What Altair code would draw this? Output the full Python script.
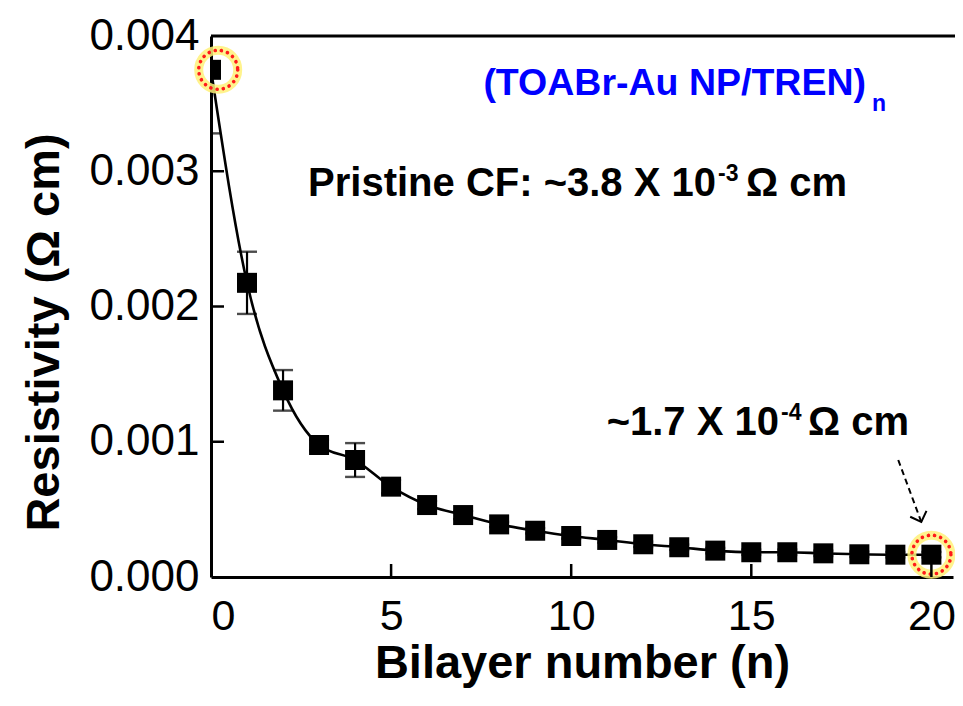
import altair as alt
import pandas as pd
import math

# ---- data ----
bilayer = list(range(21))
resistivity = [0.00375, 0.002175, 0.00138, 0.000976, 0.000865, 0.000668, 0.000532,
               0.000458, 0.000389, 0.000342, 0.000303, 0.000274, 0.000242, 0.000220,
               0.000195, 0.000183, 0.000183, 0.000175, 0.000168, 0.000165, 0.000165]
error = [0.00047, 0.00023, 0.00015, 0.00004, 0.000125, 0.00005, 0.00003, 0.00003,
         0.00002, 0.00002, 0.00002, 0.00002, 0.00002, 0.00002, 0.00002, 0.00002,
         0.00002, 0.00002, 0.00002, 0.00002, 0.00002]
x_ticks = [0, 5, 10, 15, 20]
y_ticks = [0.000, 0.001, 0.002, 0.003, 0.004]
inner_x_ticks = [5, 10, 15, 20]
inner_y_ticks = [0.001, 0.002, 0.003]
highlight_n = [0.2, 20]
highlight_rho = [0.00375, 0.000165]
arrow_start = (19.08, 0.000865)
arrow_end = (19.72, 0.000407)

W, H = 742, 541
FONT = "Liberation Sans"

df = pd.DataFrame({"n": bilayer, "rho": resistivity, "err": error})
df["lo"] = df["rho"] - df["err"]
df["hi"] = df["rho"] + df["err"]

xs = alt.Scale(domain=[0, 20.6], nice=False, zero=False)
ys = alt.Scale(domain=[0, 0.004], nice=False)

base = alt.Chart(df)

line = base.mark_line(color="black", strokeWidth=2.6, interpolate="monotone", clip=True).encode(
    x=alt.X("n:Q", scale=xs,
            axis=alt.Axis(values=x_ticks, format="d", title="Bilayer number (n)",
                          labelFontSize=43)),
    y=alt.Y("rho:Q", scale=ys,
            axis=alt.Axis(values=y_ticks, format=".3f", title="Resistivity (Ω cm)")),
)

err_rule = base.mark_rule(color="black", strokeWidth=2.2, clip=True).encode(
    x=alt.X("n:Q", scale=xs),
    y=alt.Y("lo:Q", scale=ys),
    y2="hi:Q",
)
cap_lo = base.mark_tick(color="black", thickness=2.4, size=20, orient="horizontal", clip=True).encode(
    x=alt.X("n:Q", scale=xs),
    y=alt.Y("lo:Q", scale=ys),
)
cap_hi = base.mark_tick(color="black", thickness=2.4, size=20, orient="horizontal", clip=True).encode(
    x=alt.X("n:Q", scale=xs),
    y=alt.Y("hi:Q", scale=ys),
)
squares = base.mark_square(color="black", size=400, opacity=1, clip=True).encode(
    x=alt.X("n:Q", scale=xs),
    y=alt.Y("rho:Q", scale=ys),
)

hl = alt.Chart(pd.DataFrame({"n": highlight_n, "rho": highlight_rho}))
glow = hl.mark_point(shape="circle", filled=False, stroke="#fff27a", strokeWidth=9,
                     opacity=0.85, size=math.pi * 22 ** 2).encode(
    x=alt.X("n:Q", scale=xs), y=alt.Y("rho:Q", scale=ys))
dots = hl.mark_point(shape="circle", filled=False, stroke="#ff1a1a", strokeWidth=3.6,
                     strokeDash=[0.1, 6.2], strokeCap="round", opacity=1,
                     size=math.pi * 22 ** 2).encode(
    x=alt.X("n:Q", scale=xs), y=alt.Y("rho:Q", scale=ys))

arr = alt.Chart(pd.DataFrame({"x": [arrow_start[0]], "y": [arrow_start[1]],
                              "x2": [arrow_end[0]], "y2": [arrow_end[1]]}))
arrow_line = arr.mark_rule(color="black", strokeWidth=2, strokeDash=[6, 4]).encode(
    x=alt.X("x:Q", scale=xs), y=alt.Y("y:Q", scale=ys),
    x2="x2:Q", y2="y2:Q")
arrow_head = arr.mark_point(shape="M -1 -1 L 0 0 L 1 -1", filled=False, stroke="black",
                            strokeWidth=2, size=300, angle=340, opacity=1).encode(
    x=alt.X("x2:Q", scale=xs), y=alt.Y("y2:Q", scale=ys))

# inward ticks
xt = alt.Chart(pd.DataFrame({"v": inner_x_ticks})).mark_rule(color="black", strokeWidth=2.5).encode(
    x=alt.X("v:Q", scale=xs), y=alt.value(H), y2=alt.value(H - 13))
yt = alt.Chart(pd.DataFrame({"v": inner_y_ticks})).mark_rule(color="black", strokeWidth=2.5).encode(
    y=alt.Y("v:Q", scale=ys), x=alt.value(0), x2=alt.value(13))

one = alt.Data(values=[{}])
top_line = alt.Chart(one).mark_rule(color="black", strokeWidth=3).encode(
    y=alt.value(0), x=alt.value(0), x2=alt.value(W + 2))


def txt(s, x, y, size, color="black", align="left", weight="bold"):
    return alt.Chart(one).mark_text(text=s, font=FONT, fontSize=size, fontWeight=weight,
                                    color=color, align=align, baseline="alphabetic").encode(
        x=alt.value(x), y=alt.value(y))


texts = [
    txt("(TOABr-Au NP/TREN)", 655, 59, 37.5, color="#0000ff", align="right"),
    txt("n", 661, 75, 23, color="#0000ff"),
    txt("Pristine CF: ~3.8 X 10", 505, 160, 40, align="right"),
    txt("-3", 507, 145, 23),
    txt("Ω cm", 535, 160, 40),
    txt("~1.7 X 10", 568, 399, 40, align="right"),
    txt("-4", 570, 384, 23),
    txt("Ω cm", 597, 399, 40),
]

chart = alt.layer(line, err_rule, cap_lo, cap_hi, squares, glow, dots, arrow_line, arrow_head,
                  xt, yt, top_line, *texts).properties(
    width=W, height=H,
    autosize=alt.AutoSizeParams(type="none"),
    padding={"left": 203, "top": 28, "right": 2, "bottom": 125},
).configure_view(stroke=None).configure_axis(
    grid=False, ticks=False, domainColor="black", domainWidth=3,
    labelFont=FONT, labelFontSize=44, labelColor="black",
    titleFont=FONT, titleFontSize=47, titleFontWeight="bold", titleColor="black",
).configure_axisY(labelPadding=12, titlePadding=20, titleY=296).configure_axisX(
    labelPadding=18, titlePadding=2)

chart.save("out.html", embed_options={"renderer": "svg", "actions": False})
